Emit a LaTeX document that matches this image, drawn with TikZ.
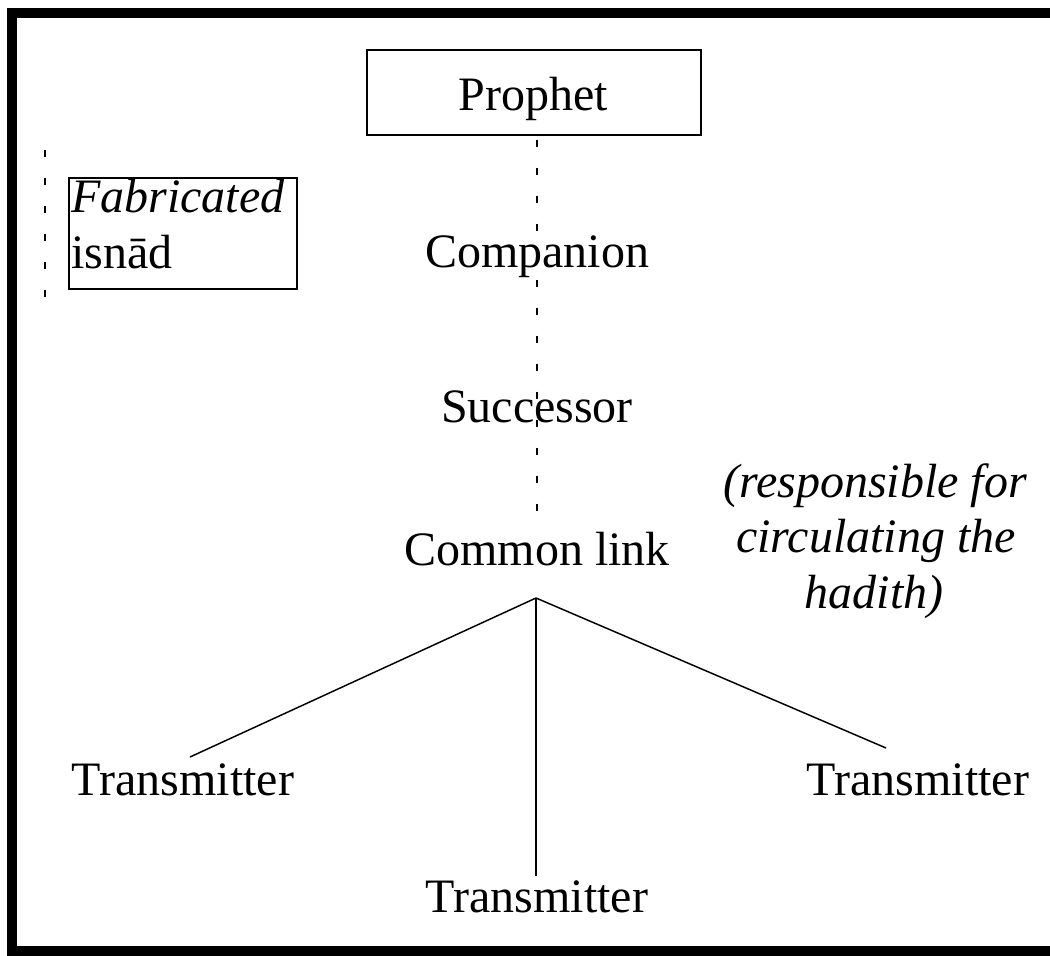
\documentclass[tikz,border=0pt]{standalone}
\usepackage{fontspec}
\setmainfont{Liberation Serif}
\begin{document}
\begin{tikzpicture}[x=0.75pt,y=-0.75pt,
  lbl/.style={inner sep=0pt,anchor=base,font=\fontsize{36}{42}\selectfont},
  dots/.style={line width=1.6pt,dash pattern=on 5.25pt off 15.75pt},
  thin/.style={line width=1.1pt}]
\useasboundingbox (0,0) rectangle (1050,956);
\clip (0,0) rectangle (1050,956);
\fill[white] (0,0) rectangle (1050,956);
% frame
\draw[line width=7.5pt] (12,13) rectangle (1080,951);
% Prophet box
\node[draw,thin,minimum width=334*0.75pt,minimum height=85*0.75pt,inner sep=0pt] (pbox) at (534,92.5) {};
\node[lbl] (prophet) at (533,110) {Prophet};
% dotted central line
\coordinate (dEnd) at (537,529);
\draw[dots,dash phase=-3pt] (pbox.south -| dEnd) -- (dEnd);
% labels along line
\node[lbl] (companion) at (537,267) {Companion};
\node[lbl] (successor) at (537,422) {Successor};
\node[lbl] (common) at (537,565) {Common link};
% fabricated box
\node[draw,thin,minimum width=228*0.75pt,minimum height=111*0.75pt,inner sep=0pt] (fbox) at (183,233.5) {};
\node[lbl,anchor=base west] (fab) at (71,212) {\itshape Fabricated};
\node[lbl,anchor=base west] (isnad) at (71,268) {isnād};
% left dotted line
\coordinate (lTop) at (45,150);
\coordinate (lBot) at (45,300);
\draw[dots] (lTop) -- (lBot);
% tree
\coordinate (apex) at (536,598);
\node[lbl] (tL) at (183,795) {Transmitter};
\node[lbl] (tR) at (918,795) {Transmitter};
\node[lbl] (tB) at (537,912) {Transmitter};
\coordinate (eL) at (190,757);
\coordinate (eR) at (886,748);
\coordinate (eB) at (536,876);
\draw[thin] (apex) -- (eL);
\draw[thin] (apex) -- (eR);
\draw[thin] (apex) -- (eB);
% note
\node[lbl] (n1) at (875,497) {\itshape (responsible for};
\node[lbl] (n2) at (876,552) {\itshape circulating the};
\node[lbl] (n3) at (874,608) {\itshape hadith)};
\end{tikzpicture}
\end{document}
